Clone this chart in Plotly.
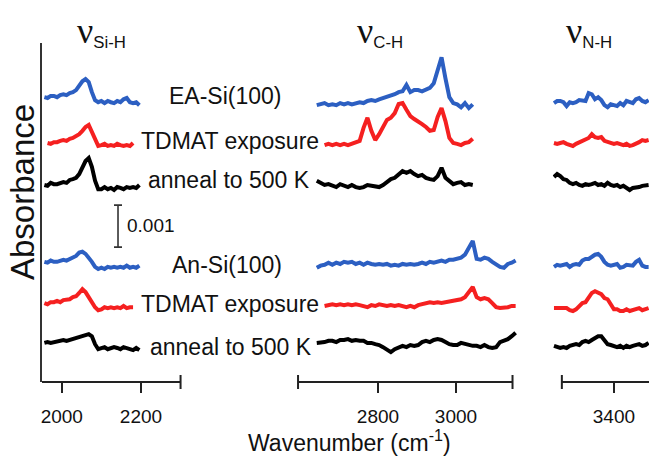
import plotly.graph_objects as go

# ---------------- data (absorbance in units of 1e-5) ----------------
WN_SIH = [1956, 1964, 1972, 1980, 1988, 1996, 2004, 2012, 2020, 2028, 2036, 2044, 2052, 2060,
          2068, 2076, 2084, 2092, 2100, 2108, 2116, 2124, 2132, 2140, 2148, 2156, 2164, 2172,
          2180, 2188, 2196]
WN_CH = [2643, 2653, 2663, 2673, 2683, 2693, 2703, 2713, 2723, 2733, 2743, 2753, 2763, 2773,
         2783, 2793, 2803, 2813, 2823, 2833, 2843, 2853, 2863, 2873, 2883, 2893, 2903, 2913,
         2923, 2933, 2943, 2953, 2963, 2973, 2983, 2993, 3003, 3013, 3023, 3033, 3043, 3053,
         3063, 3073, 3083, 3093, 3103, 3113, 3123, 3133, 3143, 3153]
WN_NH = [3248, 3256, 3264, 3272, 3280, 3288, 3296, 3304, 3312, 3320, 3328, 3336, 3344, 3352,
         3360, 3368, 3376, 3384, 3392, 3400, 3408, 3416, 3424, 3432, 3440, 3448, 3456, 3464,
         3472, 3480, 3488]

SIH_EA_SI = [7, 5, 10, 10, 7, 12, 14, 12, 17, 19, 24, 33, 45, 50, 43, 19, 0, -5, -2, -7, -2, -5,
             -7, -2, -5, 2, 5, -5, -7, -5, -12]
SIH_EA_TDMAT = [None, 0, -2, 2, 2, 5, 7, 5, 10, 12, 17, 21, 29, 38, 43, 26, 5, -7, -5, -2, -7,
                -5, -7, -2, -5, -7, -5, -7, 0]
SIH_EA_ANNEAL = [0, -2, 5, 2, 2, 5, 7, 5, 12, 14, 17, 26, 40, 57, 64, 43, 10, -10, -10, -5, -10,
                 -7, -12, -5, -7, -10, -5, -7, -5, -7, 0]
SIH_AN_SI = [7, 5, 10, 7, 7, 10, 12, 10, 14, 17, 21, 29, 31, 26, 17, 7, -5, -10, -7, -10, -5, -7,
             -5, -7, -5, -7, -2, -7, -5, -7, -2]
SIH_AN_TDMAT = [5, 2, 7, 7, 10, 7, 12, 12, 14, 19, 21, 29, 38, 31, 19, 7, -5, -12, -10, -5, -7,
                -5, -7, -5, -7, -2, -7, -5, -5]
SIH_AN_ANNEAL = [5, 7, 5, 7, 10, 10, 12, 10, 12, 14, 17, 19, 21, 24, 26, 21, 2, -10, -7, -5, -10,
                 -7, -5, -7, -10, -5, -7, -10, -12, -7, -12]

CH_EA_SI = [-12, -10, -7, -12, -10, -12, -7, -10, -7, -10, -7, -5, -7, -2, 0, -2, 2, 5, 7, 12,
            14, 19, 21, 36, 19, 24, 24, 21, 26, 29, 40, 71, 102, 52, 7, -7, -10, -17, -7, -19, -10]
CH_EA_TDMAT = [None, None, -5, -2, -5, -2, -5, -2, -5, -2, 0, 5, 36, 60, 29, 7, 21, 40, 55, 60,
               71, 93, 95, 79, 64, 57, 52, 45, 38, 29, 31, 62, 83, 52, 12, 0, -2, -5, 0, 2, 10]
CH_EA_ANNEAL = [10, 5, 0, 2, -2, -5, 2, -2, -5, 0, -5, -7, -5, 0, -2, -5, -5, 0, 7, 14, 17, 24,
                33, 29, 33, 26, 21, 24, 17, 14, 12, 21, 41, 17, 10, 2, 5, 7, 0, 2, 0]
CH_AN_SI = [-7, -2, 0, 5, 0, 5, 2, 7, 5, 7, 2, 5, 0, 5, 2, 0, 2, 0, 2, -2, 0, -2, 2, 0, 2, 0, 2,
            5, 2, 7, 5, 7, 10, 7, 12, 12, 14, 17, 24, 43, 57, 14, 12, 17, 14, 7, 2, -5, -7, 2, 5, 10]
CH_AN_TDMAT = [None, None, -2, 0, 2, 0, 2, 0, 2, 0, 2, 0, -2, -5, 0, -2, 2, 0, -2, 0, -2, 0, -2,
               -5, -2, -5, 0, 2, 5, 7, 5, 7, 5, 7, 10, 12, 12, 14, 19, 33, 43, 19, 14, 17, 14, 5,
               -5, -7, -7, -5, -2, -2]
CH_AN_ANNEAL = [5, 5, 7, 10, 10, 7, 12, 12, 14, 10, 12, 10, 10, 5, 5, 2, 0, -5, -12, -17, -10, -5,
                -2, -5, 0, -2, 0, 7, 10, 7, 12, 14, 12, 7, 2, 0, 0, 5, 2, 0, -2, -2, -5, 0, -5, -7,
                -5, 7, 10, 14, 21, 29]

NH_EA_SI = [-7, -2, -2, -5, -14, -5, -7, -5, 0, -2, -2, 17, 14, 2, 7, 0, -12, -17, -10, -12, -14,
            -7, -12, -2, -5, -7, 2, 5, -2, -5, 0]
NH_EA_TDMAT = [0, -2, 0, 2, -2, -5, -7, -2, 2, 5, 10, 12, 21, 14, 12, 14, 5, 2, 0, -2, 0, -2, -5,
               -2, -7, -5, -2, 2, 7, 5, 7]
NH_EA_ANNEAL = [19, 26, 21, 14, 12, 5, 2, 5, 0, -2, 2, 0, 2, 5, 0, 2, -2, 5, 0, -2, 0, -5, -2, -7,
                -12, -7, -7, -5, -2, -2, 0]
NH_AN_SI = [-5, 0, -2, 0, 2, -5, 0, 2, 0, 10, 14, 14, 19, 24, 26, 19, 7, 0, -2, 0, 2, -7, -5, 0,
            -2, -2, 7, 12, -2, -5, -5]
NH_AN_TDMAT = [-7, -7, -7, -7, -7, -12, -14, -10, -2, 5, 7, 17, 29, 33, 29, 26, 17, 14, 2, -10,
               -10, -14, -14, -10, -14, -12, -10, -7, -12, -10, -7]
NH_AN_ANNEAL = [-2, -5, -7, -5, -7, -2, 0, 2, 0, 7, 10, 7, 12, 17, 21, 21, 10, 2, 0, -2, -5, -2,
                -7, -2, -5, -2, 0, 2, -2, 0, 5]

SERIES_LABELS = ["EA-Si(100)", "TDMAT exposure", "anneal to 500 K",
                 "An-Si(100)", "TDMAT exposure", "anneal to 500 K"]
STACK_OFFSETS = [671, 569, 469, 279, 183, 88]
SERIES_COLORS = ["#2c5fc2", "#f52020", "#000000", "#2c5fc2", "#f52020", "#000000"]

PANEL_TITLES = ["Si-H", "C-H", "N-H"]
PANEL_TICKS = [[2000, 2200], [2800, 3000], [3400]]
SCALE_BAR = 100          # 0.001 absorbance
SCALE_BAR_LABEL = "0.001"

panels = [
    (WN_SIH, [SIH_EA_SI, SIH_EA_TDMAT, SIH_EA_ANNEAL, SIH_AN_SI, SIH_AN_TDMAT, SIH_AN_ANNEAL]),
    (WN_CH, [CH_EA_SI, CH_EA_TDMAT, CH_EA_ANNEAL, CH_AN_SI, CH_AN_TDMAT, CH_AN_ANNEAL]),
    (WN_NH, [NH_EA_SI, NH_EA_TDMAT, NH_EA_ANNEAL, NH_AN_SI, NH_AN_TDMAT, NH_AN_ANNEAL]),
]

# ---------------- layout geometry ----------------
FONT = "Liberation Sans, Arial, sans-serif"
AX_IDS = ["x", "x2", "x3"]
DOMAINS = [[0.0, 0.2348], [0.4186, 0.7848], [0.8415, 1.0]]
RANGES = [[1950, 2310], [2590, 3160], [3245, 3489]]
AXIS_SPANS = [[1950, 2300], [2595, 3145], [3268, 3489]]
AXIS_CAPS = [[2300], [2595, 3145], [3268]]

fig = go.Figure()

for p, (wn, series) in enumerate(panels):
    for s, vals in enumerate(series):
        xs = wn[:len(vals)]
        ys = [None if v is None else v + STACK_OFFSETS[s] for v in vals]
        fig.add_trace(go.Scatter(
            x=xs, y=ys, xaxis=AX_IDS[p], yaxis="y", mode="lines",
            line=dict(color=SERIES_COLORS[s], width=4),
            hoverinfo="skip", showlegend=False))

# scale bar (0.001 absorbance)
SCALE_BAR_X = 2142
SCALE_BAR_BOTTOM = 321
fig.add_trace(go.Scatter(
    x=[SCALE_BAR_X], y=[SCALE_BAR_BOTTOM + SCALE_BAR / 2], xaxis="x", yaxis="y",
    mode="markers", marker=dict(size=1, color="rgba(0,0,0,0)"),
    error_y=dict(type="data", array=[SCALE_BAR / 2], symmetric=True,
                 color="#333333", thickness=1.6, width=4),
    hoverinfo="skip", showlegend=False))

axis_common = dict(showgrid=False, zeroline=False, showline=False, ticks="outside",
                   ticklen=10, tickwidth=2, tickcolor="#222222", ticklabelstandoff=7,
                   tickfont=dict(family=FONT, size=19, color="#111111"), anchor="y",
                   fixedrange=True)

layout = dict(
    width=649, height=456,
    margin=dict(l=42, r=0, t=43, b=74),
    paper_bgcolor="white", plot_bgcolor="white",
    font=dict(family=FONT, color="#111111"),
    yaxis=dict(domain=[0, 1], range=[0, 807], showline=True, linecolor="#333333",
               linewidth=2, showticklabels=False, ticks="", showgrid=False,
               zeroline=False, anchor="x", fixedrange=True),
)
for p in range(3):
    key = "xaxis" if p == 0 else f"xaxis{p + 1}"
    layout[key] = dict(axis_common, domain=DOMAINS[p], range=RANGES[p],
                       tickvals=PANEL_TICKS[p], ticktext=[str(t) for t in PANEL_TICKS[p]])
fig.update_layout(**layout)

# broken x-axis lines with end caps
for p in range(3):
    fig.add_shape(type="line", xref=AX_IDS[p], yref="paper",
                  x0=AXIS_SPANS[p][0], x1=AXIS_SPANS[p][1], y0=0, y1=0,
                  line=dict(color="#222222", width=2))
    for c in AXIS_CAPS[p]:
        fig.add_shape(type="line", xref=AX_IDS[p], yref="paper", ysizemode="pixel",
                      yanchor=0, x0=c, x1=c, y0=-7, y1=7,
                      line=dict(color="#222222", width=2))

# panel titles
TITLE_X = [0.0972, 0.5568, 0.9012]
for p in range(3):
    fig.add_annotation(
        xref="paper", yref="paper", x=TITLE_X[p], y=1.035, showarrow=False,
        xanchor="center", yanchor="middle",
        text=('<span style="font-family:Liberation Serif;font-size:36px">ν</span>'
              f'<sub>{PANEL_TITLES[p]}</sub>'),
        font=dict(family=FONT, size=24, color="#111111"))

# series labels
LABEL_POS = [(0.3015, 0.8437), (0.3097, 0.7109), (0.3081, 0.5959),
             (0.3048, 0.3451), (0.3097, 0.2301), (0.3114, 0.1032)]
for (lx, ly), txt in zip(LABEL_POS, SERIES_LABELS):
    fig.add_annotation(xref="paper", yref="paper", x=lx, y=ly, text=txt, showarrow=False,
                       xanchor="center", yanchor="middle",
                       font=dict(family=FONT, size=23, color="#111111"))

# scale bar label
fig.add_annotation(xref="paper", yref="paper", x=0.1367, y=0.4602, text=SCALE_BAR_LABEL,
                   showarrow=False, xanchor="left", yanchor="middle",
                   font=dict(family=FONT, size=19, color="#111111"))

# axis titles
fig.add_annotation(xref="paper", yref="paper", x=0.5074, y=-0.173,
                   text="Wavenumber (cm<sup>-1</sup>)", showarrow=False,
                   xanchor="center", yanchor="middle",
                   font=dict(family=FONT, size=23, color="#111111"))
fig.add_annotation(xref="paper", yref="paper", x=-0.0313, y=0.5605, text="Absorbance",
                   textangle=-90, showarrow=False, xanchor="center", yanchor="middle",
                   font=dict(family=FONT, size=33, color="#111111"))

fig.write_html("out.html", config={"displayModeBar": False},
               post_script="document.body.style.margin='0';document.body.style.padding='0';")
